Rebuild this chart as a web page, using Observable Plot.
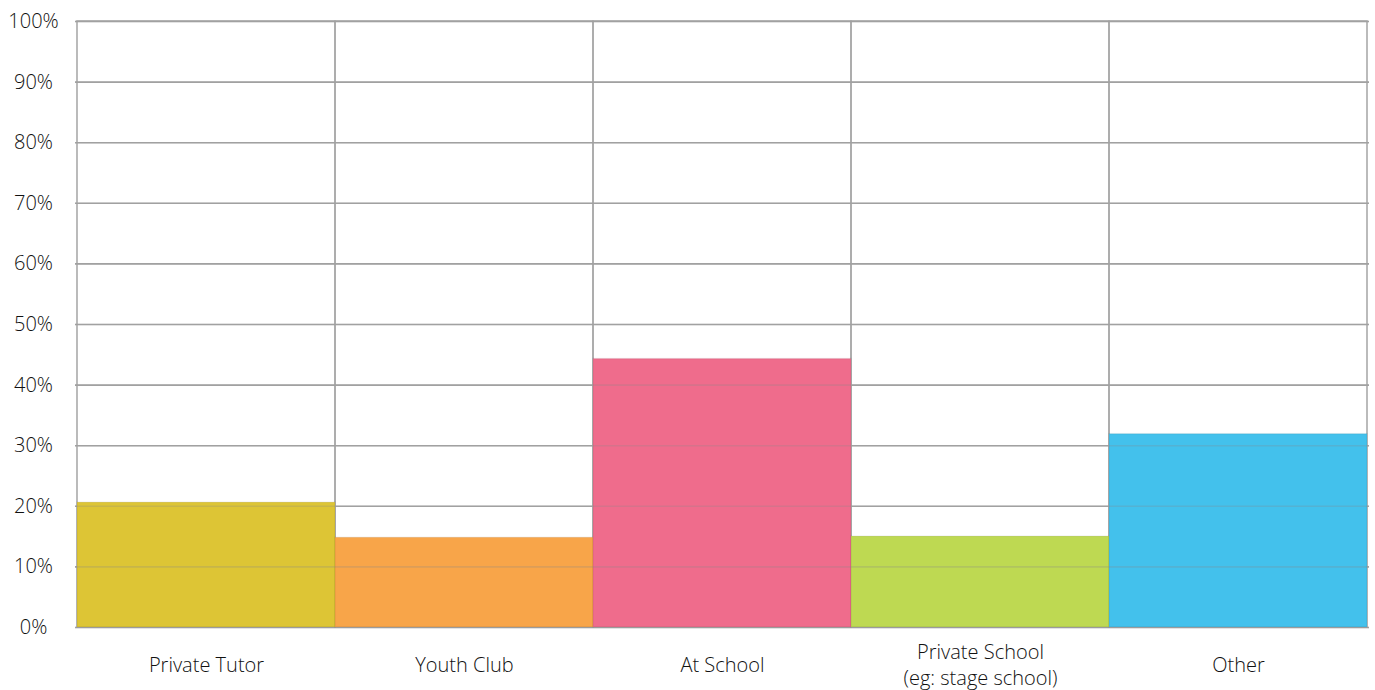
<!DOCTYPE html>
<html>
<head>
<meta charset="utf-8">
<script src="https://cdn.jsdelivr.net/npm/d3@7"></script>
<script src="https://cdn.jsdelivr.net/npm/@observablehq/plot@0.6"></script>
<style>
  html, body { margin: 0; padding: 0; background: #fff; }
  #chart svg { display: block; }
  #chart svg text { font-weight: 300; }
</style>
</head>
<body>
<div id="chart"></div>
<script>
const categories = ["Private Tutor", "Youth Club", "At School", "Private School\n(eg: stage school)", "Other"];
const values = [0.206, 0.148, 0.443, 0.150, 0.319];
const colors = ["#DDC535", "#F8A549", "#EF6C8C", "#BED952", "#43C1EC"];
const yTicks = [0, 0.1, 0.2, 0.3, 0.4, 0.5, 0.6, 0.7, 0.8, 0.9, 1.0];

const data = categories.map((c, i) => ({category: c, value: values[i], color: colors[i]}));

const font = "'Open Sans', Lato, sans-serif";

const chart = Plot.plot({
  width: 1375,
  height: 690,
  marginLeft: 75,
  marginRight: 6,
  marginTop: 21,
  marginBottom: 63,
  style: {fontFamily: font, fontSize: "20px", color: "#111", background: "#fff"},
  x: {domain: categories, padding: 0, label: null},
  y: {domain: [0, 1], label: null},
  marks: [
    Plot.gridY(yTicks, {stroke: "#aaa", strokeOpacity: 1, strokeWidth: 1.6}),
    Plot.cell(categories, {x: d => d, fill: "none", stroke: "#aaa", strokeWidth: 1.6}),
    Plot.barY(data, {x: "category", y: "value", fill: "color", stroke: "#000", strokeOpacity: 0.06, strokeWidth: 1.5}),
    Plot.gridY(yTicks, {stroke: "#888", strokeOpacity: 0.25, strokeWidth: 1.6}),
    Plot.axisY(yTicks, {
      tickSize: 0, tickPadding: 42, textAnchor: "middle",
      tickFormat: d => Math.round(d * 100) + "%",
      fontSize: 20, fill: "#111"
    }),
    Plot.axisX({
      tickSize: 0, tickPadding: 36, lineAnchor: "middle", lineHeight: 1.3,
      fontSize: 20, fill: "#111", label: null
    })
  ]
});

document.getElementById("chart").appendChild(chart);
</script>
</body>
</html>
